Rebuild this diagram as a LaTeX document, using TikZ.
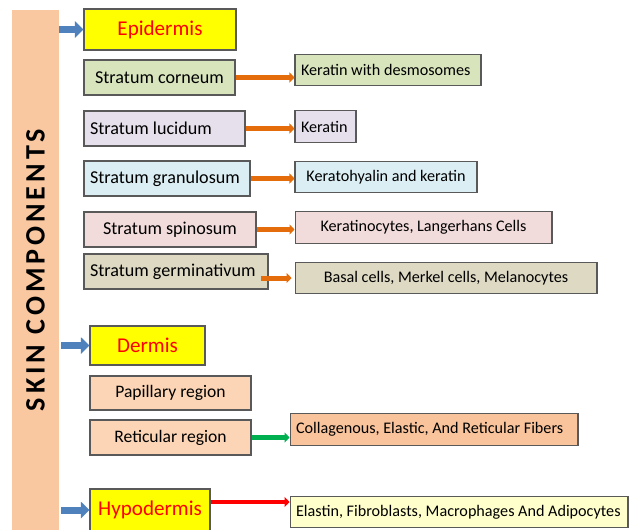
\documentclass[tikz,border=0pt]{standalone}
\usepackage{fontspec}
\setmainfont{Carlito}
\newfontfamily\barfont[LetterSpace=14]{Carlito}
\usetikzlibrary{arrows.meta}

\definecolor{barpeach}{RGB}{250,200,160}
\definecolor{headyellow}{RGB}{255,255,0}
\definecolor{corngreen}{RGB}{216,228,188}
\definecolor{lucililac}{RGB}{230,224,236}
\definecolor{granblue}{RGB}{219,238,244}
\definecolor{spinpink}{RGB}{242,220,219}
\definecolor{germtan}{RGB}{221,217,195}
\definecolor{dermpeach}{RGB}{251,213,181}
\definecolor{fibrepeach}{RGB}{249,196,156}
\definecolor{hypoyellow}{RGB}{255,255,204}
\definecolor{arrowblue}{RGB}{79,129,189}
\definecolor{arroworange}{RGB}{228,108,10}
\definecolor{arrowgreen}{RGB}{0,176,80}

\begin{document}
\begin{tikzpicture}[x=0.02cm,y=-0.02cm,
layer/.style={draw=black!65,line width=0.6pt,minimum height=0.7cm,inner sep=0.12cm,
font=\fontsize{10.3}{12}\selectfont},
info/.style={draw=black!65,line width=0.6pt,minimum height=0.63cm,inner sep=0.12cm,
font=\fontsize{9.2}{11}\selectfont},
head/.style={draw=black!65,line width=0.6pt,fill=headyellow,text=red,
font=\fontsize{12}{14}\selectfont},
bluearrow/.style={draw=arrowblue,line width=0.14cm,-{Triangle[length=0.17cm,width=0.32cm]}},
link/.style={line width=0.1cm,-{Triangle[length=0.1cm,width=0.2cm]}}]

\useasboundingbox (0,0) rectangle (638,529);

% Side bar
\node[fill=barpeach,rotate=90,minimum width=10.4cm,minimum height=0.94cm,inner sep=0pt,
font=\barfont\bfseries\fontsize{16}{18}\selectfont]
(bar) at (35.5,270) {SKIN COMPONENTS};

% Epidermis
\node[head,minimum width=3.04cm,minimum height=0.82cm] (epi) at (160,29.5) {Epidermis};

\node[layer,fill=corngreen,minimum width=3.02cm] (corneum) at (159.5,77.5) {Stratum corneum};
\node[layer,fill=lucililac,text width=2.98cm,align=flush left] (lucidum) at (164.5,128.5) {Stratum lucidum};
\node[layer,fill=granblue,text width=3.08cm,align=flush left] (granulosum) at (167,178.5) {Stratum granulosum};
\node[layer,fill=spinpink,minimum width=3.44cm] (spinosum) at (170,229.5) {Stratum spinosum};
\node[layer,fill=germtan,text width=3.44cm,align=flush left] (germ) at (176,271.5) {Stratum germinativum};

\node[info,fill=corngreen,text width=3.48cm,align=flush left] (desmo) at (388,70) {Keratin with desmosomes};
\node[info,fill=lucililac,text width=0.98cm,align=flush left] (keratin) at (325.5,126.5) {Keratin};
\node[info,fill=granblue,minimum width=3.64cm] (hyalin) at (386,177) {Keratohyalin and keratin};
\node[info,fill=spinpink,minimum width=5.14cm] (langer) at (423.5,227.5) {Keratinocytes, Langerhans Cells};
\node[info,fill=germtan,minimum width=6.04cm] (basal) at (446,278) {Basal cells, Merkel cells, Melanocytes};

% Dermis
\node[head,minimum width=2.3cm,minimum height=0.78cm] (dermis) at (147.5,345.5) {Dermis};

\node[layer,fill=dermpeach,minimum width=3.22cm,minimum height=0.68cm,
font=\fontsize{10}{12}\selectfont] (papillary) at (170.5,393) {Papillary region};
\node[layer,fill=dermpeach,minimum width=3.22cm,
font=\fontsize{10}{12}\selectfont] (reticular) at (170.5,437.5) {Reticular region};

\node[info,fill=fibrepeach,text width=5.52cm,align=flush left] (fibres) at (434,429.5)
{Collagenous, Elastic, And Reticular Fibers};

% Hypodermis
\node[head,minimum width=2.4cm,minimum height=0.84cm] (hypo) at (150,510) {Hypodermis};

\node[info,fill=hypoyellow,text width=6.52cm,align=flush left] (adipo) at (459,512)
{Elastin, Fibroblasts, Macrophages And Adipocytes};

% Arrows
\draw[bluearrow] (bar.south |- epi.west) -- (epi.west);
\draw[bluearrow] ([xshift=0.04cm]bar.south |- dermis.west) -- (dermis.west);
\draw[bluearrow] ([xshift=0.04cm]bar.south |- hypo.west) -- (hypo.west);

\draw[link,arroworange] (corneum.east) -- (corneum.east -| desmo.west);
\draw[link,arroworange] (lucidum.east) -- (lucidum.east -| keratin.west);
\draw[link,arroworange] (granulosum.east) -- (granulosum.east -| hyalin.west);
\draw[link,arroworange] (spinosum.east) -- (spinosum.east -| langer.west);
\coordinate (germout) at ([xshift=-0.16cm,yshift=-0.13cm]germ.east);
\draw[link,arroworange] (germout) -- ([xshift=-0.06cm]germout -| basal.west);

\draw[link,arrowgreen,line width=0.09cm] (reticular.east) -- (reticular.east -| fibres.west);

\coordinate (hypoout) at ([yshift=0.16cm]hypo.east);
\draw[link,red,line width=0.08cm] (hypoout) -- (hypoout -| adipo.west);

\end{tikzpicture}
\end{document}
